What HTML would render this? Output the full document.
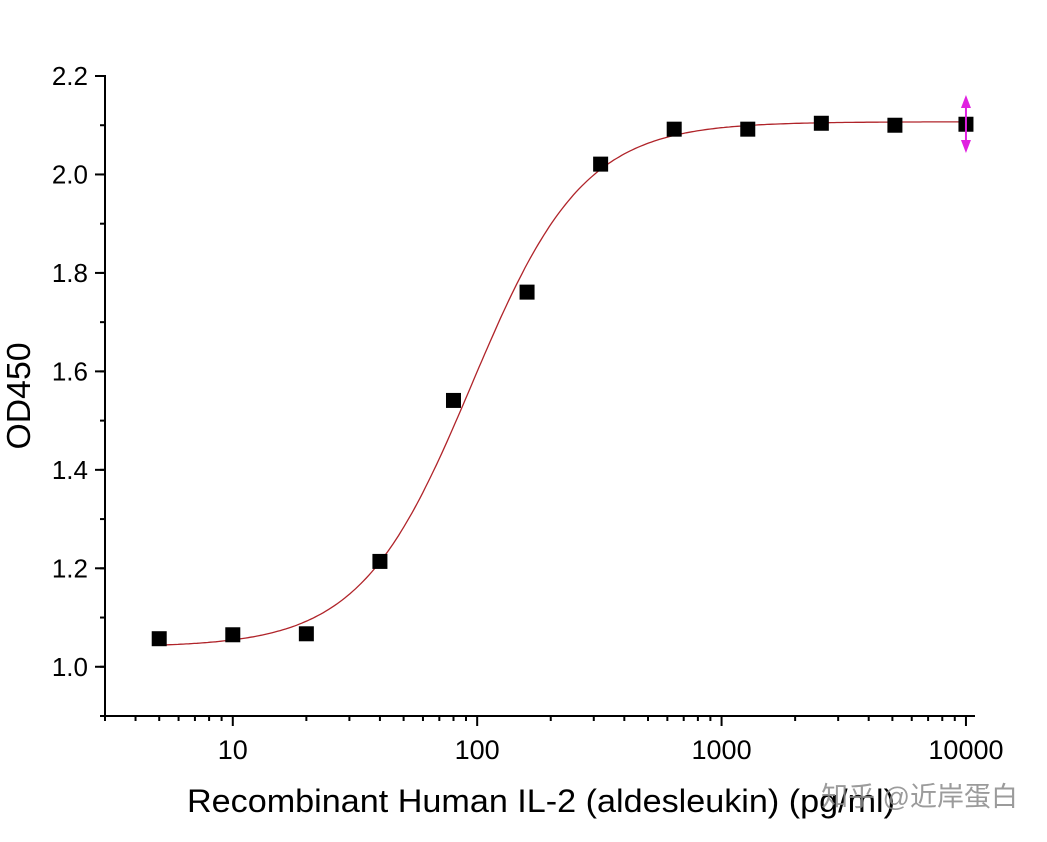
<!DOCTYPE html>
<html><head><meta charset="utf-8"><style>
body{margin:0;background:#fff;}
svg text{font-family:"Liberation Sans",Arial,sans-serif;}
</style></head><body>
<svg id="chart" width="1047" height="837" xmlns="http://www.w3.org/2000/svg">
<rect width="1047" height="837" fill="#fff"/>
<g id="axes"></g>
<g id="curve"></g>
<g id="points"></g>
<text transform="translate(30,396) rotate(-90)" font-size="33" text-anchor="middle" textLength="107" lengthAdjust="spacingAndGlyphs">OD450</text>
<text x="541" y="812" font-size="32" text-anchor="middle" textLength="708" lengthAdjust="spacingAndGlyphs">Recombinant Human IL-2 (aldesleukin) (pg/ml)</text>
<text x="1018" y="806" font-size="27" text-anchor="end" fill="#8a8a8a" fill-opacity="0.85" style="font-family:'Liberation Sans','Noto Sans CJK SC',sans-serif">知乎 @近岸蛋白</text>
</svg>
<script>
const concentrations=[5,10,20,40,80,160,320,640,1280,2560,5120,10000];
const od450=[1.057,1.065,1.067,1.214,1.541,1.761,2.021,2.092,2.092,2.104,2.100,2.102];
const fitParams=[1.04,2.107,95,1.9]; // bottom, top, EC50, hill
const yTicks=[1.0,1.2,1.4,1.6,1.8,2.0,2.2];
const yTickLabels=["1.0","1.2","1.4","1.6","1.8","2.0","2.2"];
const xTicks=[10,100,1000,10000];
const xTickLabels=["10","100","1000","10000"];
const NS="http://www.w3.org/2000/svg";
const X0=105,X1=975,Y0=716,Y1=76;
const xmin=Math.log10(3),xmax=4.037,ymin=0.9,ymax=2.2;
function xs(v){return X0+(Math.log10(v)-xmin)/(xmax-xmin)*(X1-X0);}
function ys(v){return Y0-(v-ymin)/(ymax-ymin)*(Y0-Y1);}
function mk(t,a,p){const e=document.createElementNS(NS,t);for(const k in a)e.setAttribute(k,a[k]);p.appendChild(e);return e;}
const ax=document.getElementById('axes');
let e=mk('line',{x1:X0,y1:Y0,x2:X0,y2:Y1-1,stroke:'#000','stroke-width':2},ax);


e=mk('line',{x1:X0-1,y1:Y0,x2:X1,y2:Y0,stroke:'#000','stroke-width':2},ax);


for(let v=0.9;v<=2.21;v+=0.1){const y=ys(v);mk('line',{x1:X0-5,y1:y,x2:X0,y2:y,stroke:'#000','stroke-width':2},ax);}
yTicks.forEach((v,i)=>{const y=ys(v);mk('line',{x1:X0-10,y1:y,x2:X0,y2:y,stroke:'#000','stroke-width':2},ax);
const t=mk('text',{x:X0-17,y:y+9,'font-size':26,'text-anchor':'end'},ax);t.textContent=yTickLabels[i];

});
for(let d=0;d<=4;d++)for(let m=1;m<10;m++){const v=m*Math.pow(10,d);if(v<3||Math.log10(v)>xmax)continue;const x=xs(v);const L=m==1?10:5;mk('line',{x1:x,y1:Y0,x2:x,y2:Y0+L,stroke:'#000','stroke-width':2},ax);}
xTicks.forEach((v,i)=>{const t=mk('text',{x:xs(v),y:Y0+43,'font-size':27,'text-anchor':'middle'},ax);t.textContent=xTickLabels[i];

});
const [b,tp,ec,h]=fitParams;let d='';
for(let i=0;i<=300;i++){const lx=Math.log10(5)+i/300*(4-Math.log10(5));const v=Math.pow(10,lx);const yv=b+(tp-b)/(1+Math.pow(ec/v,h));d+=(i?'L':'M')+xs(v).toFixed(1)+','+ys(yv).toFixed(1);}
e=mk('path',{d:d,fill:'none',stroke:'#b0242a','stroke-width':1.3},document.getElementById('curve'));


const pg=document.getElementById('points');
concentrations.forEach((c,i)=>{const p=mk('rect',{x:xs(c)-7.5,y:ys(od450[i])-7.5,width:15,height:15,fill:'#000'},pg);

});
const ar=mk('g',{},pg);


const axp=xs(10000);
mk('line',{x1:axp,y1:98,x2:axp,y2:150,stroke:'#e020e0','stroke-width':2},ar);
mk('path',{d:`M${axp-5},108L${axp},95L${axp+5},108Z M${axp-5},140L${axp},153L${axp+5},140Z`,fill:'#e020e0'},ar);
</script>
</body></html>
